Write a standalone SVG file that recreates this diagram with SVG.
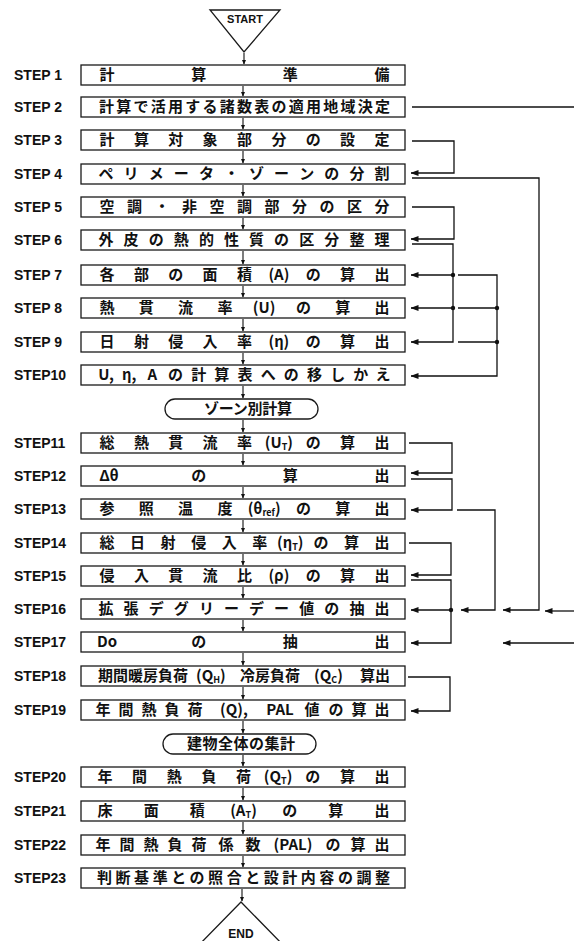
<svg xmlns="http://www.w3.org/2000/svg" width="574" height="941" viewBox="0 0 574 941">
<style>
.bg{fill:#fff}
.box{fill:#fff;stroke:#1a1a1a;stroke-width:1.3}
.term{fill:#fff;stroke:#1a1a1a;stroke-width:1.3}
.lbl{font-family:"Liberation Sans",Arial,sans-serif;font-weight:700;font-size:14px;fill:#111}
.tx{font-family:"Noto Sans CJK JP","Liberation Sans",sans-serif;font-weight:700;font-size:15px;fill:#111;text-anchor:middle}
.txs{font-family:"Noto Sans CJK JP","Liberation Sans",sans-serif;font-weight:700;font-size:15px;fill:#111}
.sub{font-size:9px}
.tl{font-family:"Liberation Sans",Arial,sans-serif;font-weight:700;font-size:11px;fill:#111;text-anchor:middle}
.ln{fill:none;stroke:#111;stroke-width:1.3}
.ar{fill:none;stroke:#111;stroke-width:1.3;marker-end:url(#ah)}
.dn{fill:none;stroke:#111;stroke-width:1.1;marker-end:url(#ahs)}
.dot{fill:#111}
</style>
<defs>
<marker id="ah" markerUnits="userSpaceOnUse" markerWidth="8" markerHeight="6" refX="7.5" refY="3" orient="auto"><path d="M0,0 L8,3 L0,6 z" fill="#111"/></marker>
<marker id="ahs" markerUnits="userSpaceOnUse" markerWidth="5" markerHeight="5" refX="4.5" refY="2.5" orient="auto"><path d="M0,0.3 L5,2.5 L0,4.7 z" fill="#111"/></marker>
</defs>
<rect class="bg" x="0" y="0" width="574" height="941"/>

<g id="start"><polygon class="term" points="210,10 280,10 244,52"/><text class="tl" x="245" y="23">START</text></g>

<g id="step1"><text class="lbl" x="14" y="80">STEP 1</text><rect class="box" x="81" y="65" width="324" height="20"/><text class="tx" y="80"><tspan x="107">計</tspan><tspan x="198.7">算</tspan><tspan x="290.3">準</tspan><tspan x="382">備</tspan></text></g>

<g id="step2"><text class="lbl" x="14" y="112">STEP 2</text><rect class="box" x="81" y="97" width="324" height="20"/><text class="txs" x="99" y="112" textLength="291" lengthAdjust="spacing">計算で活用する諸数表の適用地域決定</text></g>

<g id="step3"><text class="lbl" x="14" y="145">STEP 3</text><rect class="box" x="81" y="130" width="324" height="20"/><text class="tx" y="145"><tspan x="107">計</tspan><tspan x="141.4">算</tspan><tspan x="175.8">対</tspan><tspan x="210.1">象</tspan><tspan x="244.5">部</tspan><tspan x="278.9">分</tspan><tspan x="313.3">の</tspan><tspan x="347.6">設</tspan><tspan x="382">定</tspan></text></g>

<g id="step4"><text class="lbl" x="14" y="179">STEP 4</text><rect class="box" x="81" y="164" width="324" height="20"/><text class="tx" y="179"><tspan x="106">ペ</tspan><tspan x="131.1">リ</tspan><tspan x="156.2">メ</tspan><tspan x="181.3">ー</tspan><tspan x="206.4">タ</tspan><tspan x="231.5">・</tspan><tspan x="256.5">ゾ</tspan><tspan x="281.6">ー</tspan><tspan x="306.7">ン</tspan><tspan x="331.8">の</tspan><tspan x="356.9">分</tspan><tspan x="382">割</tspan></text></g>

<g id="step5"><text class="lbl" x="14" y="212">STEP 5</text><rect class="box" x="81" y="197" width="324" height="20"/><text class="tx" y="212"><tspan x="107">空</tspan><tspan x="134.5">調</tspan><tspan x="162">・</tspan><tspan x="189.5">非</tspan><tspan x="217">空</tspan><tspan x="244.5">調</tspan><tspan x="272">部</tspan><tspan x="299.5">分</tspan><tspan x="327">の</tspan><tspan x="354.5">区</tspan><tspan x="382">分</tspan></text></g>

<g id="step6"><text class="lbl" x="14" y="245">STEP 6</text><rect class="box" x="81" y="230" width="324" height="20"/><text class="tx" y="245"><tspan x="106">外</tspan><tspan x="131.1">皮</tspan><tspan x="156.2">の</tspan><tspan x="181.3">熱</tspan><tspan x="206.4">的</tspan><tspan x="231.5">性</tspan><tspan x="256.5">質</tspan><tspan x="281.6">の</tspan><tspan x="306.7">区</tspan><tspan x="331.8">分</tspan><tspan x="356.9">整</tspan><tspan x="382">理</tspan></text></g>

<g id="step7"><text class="lbl" x="14" y="280">STEP 7</text><rect class="box" x="81" y="265" width="324" height="20"/><text class="tx" y="280"><tspan x="107">各</tspan><tspan x="141.4">部</tspan><tspan x="175.8">の</tspan><tspan x="210.1">面</tspan><tspan x="244.5">積</tspan><tspan x="278.9">(A)</tspan><tspan x="313.3">の</tspan><tspan x="347.6">算</tspan><tspan x="382">出</tspan></text></g>

<g id="step8"><text class="lbl" x="14" y="313">STEP 8</text><rect class="box" x="81" y="298" width="324" height="20"/><text class="tx" y="313"><tspan x="107">熱</tspan><tspan x="146.3">貫</tspan><tspan x="185.6">流</tspan><tspan x="224.9">率</tspan><tspan x="264.1">(U)</tspan><tspan x="303.4">の</tspan><tspan x="342.7">算</tspan><tspan x="382">出</tspan></text></g>

<g id="step9"><text class="lbl" x="14" y="347">STEP 9</text><rect class="box" x="81" y="332" width="324" height="20"/><text class="tx" y="347"><tspan x="107">日</tspan><tspan x="141.4">射</tspan><tspan x="175.8">侵</tspan><tspan x="210.1">入</tspan><tspan x="244.5">率</tspan><tspan x="278.9">(η)</tspan><tspan x="313.3">の</tspan><tspan x="347.6">算</tspan><tspan x="382">出</tspan></text></g>

<g id="step10"><text class="lbl" x="14" y="380">STEP10</text><rect class="box" x="81" y="365" width="324" height="20"/><text class="tx" y="380"><tspan x="106">U,</tspan><tspan x="129.2">η,</tspan><tspan x="152.3">A</tspan><tspan x="175.5">の</tspan><tspan x="198.7">計</tspan><tspan x="221.8">算</tspan><tspan x="245">表</tspan><tspan x="268.2">へ</tspan><tspan x="291.3">の</tspan><tspan x="314.5">移</tspan><tspan x="337.7">し</tspan><tspan x="360.8">か</tspan><tspan x="383">え</tspan></text></g>

<g id="zone"><rect class="term" x="165" y="399" width="153" height="20" rx="10"/><text class="txs" x="204" y="414" textLength="88" lengthAdjust="spacing">ゾーン別計算</text></g>

<g id="step11"><text class="lbl" x="14" y="448">STEP11</text><rect class="box" x="81" y="433" width="324" height="20"/><text class="tx" y="448"><tspan x="107">総</tspan><tspan x="141.4">熱</tspan><tspan x="175.8">貫</tspan><tspan x="210.1">流</tspan><tspan x="244.5">率</tspan><tspan x="278.9">(U<tspan class="sub" dy="2">T</tspan><tspan dy="-2">)</tspan></tspan><tspan x="313.3">の</tspan><tspan x="347.6">算</tspan><tspan x="382">出</tspan></text></g>

<g id="step12"><text class="lbl" x="14" y="481">STEP12</text><rect class="box" x="81" y="466" width="324" height="20"/><text class="tx" y="481"><tspan x="109">Δθ</tspan><tspan x="198.7">の</tspan><tspan x="290.3">算</tspan><tspan x="382">出</tspan></text></g>

<g id="step13"><text class="lbl" x="14" y="514">STEP13</text><rect class="box" x="81" y="499" width="324" height="20"/><text class="tx" y="514"><tspan x="107">参</tspan><tspan x="146.3">照</tspan><tspan x="185.6">温</tspan><tspan x="224.9">度</tspan><tspan x="264.1">(θ<tspan class="sub" dy="2">ref</tspan><tspan dy="-2">)</tspan></tspan><tspan x="303.4">の</tspan><tspan x="342.7">算</tspan><tspan x="382">出</tspan></text></g>

<g id="step14"><text class="lbl" x="14" y="548">STEP14</text><rect class="box" x="81" y="533" width="324" height="20"/><text class="tx" y="548"><tspan x="107">総</tspan><tspan x="137.6">日</tspan><tspan x="168.1">射</tspan><tspan x="198.7">侵</tspan><tspan x="229.2">入</tspan><tspan x="259.8">率</tspan><tspan x="290.3">(η<tspan class="sub" dy="2">T</tspan><tspan dy="-2">)</tspan></tspan><tspan x="320.9">の</tspan><tspan x="351.4">算</tspan><tspan x="382">出</tspan></text></g>

<g id="step15"><text class="lbl" x="14" y="581">STEP15</text><rect class="box" x="81" y="566" width="324" height="20"/><text class="tx" y="581"><tspan x="107">侵</tspan><tspan x="141.4">入</tspan><tspan x="175.8">貫</tspan><tspan x="210.1">流</tspan><tspan x="244.5">比</tspan><tspan x="278.9">(ρ)</tspan><tspan x="313.3">の</tspan><tspan x="347.6">算</tspan><tspan x="382">出</tspan></text></g>

<g id="step16"><text class="lbl" x="14" y="614">STEP16</text><rect class="box" x="81" y="599" width="324" height="20"/><text class="tx" y="614"><tspan x="106">拡</tspan><tspan x="131.1">張</tspan><tspan x="156.2">デ</tspan><tspan x="181.3">グ</tspan><tspan x="206.4">リ</tspan><tspan x="231.5">ー</tspan><tspan x="256.5">デ</tspan><tspan x="281.6">ー</tspan><tspan x="306.7">値</tspan><tspan x="331.8">の</tspan><tspan x="356.9">抽</tspan><tspan x="382">出</tspan></text></g>

<g id="step17"><text class="lbl" x="14" y="647">STEP17</text><rect class="box" x="81" y="632" width="324" height="20"/><text class="tx" y="647"><tspan x="107">Do</tspan><tspan x="198.7">の</tspan><tspan x="290.3">抽</tspan><tspan x="382">出</tspan></text></g>

<g id="step18"><text class="lbl" x="14" y="681">STEP18</text><rect class="box" x="81" y="666" width="324" height="20"/><text class="txs" y="681"><tspan x="98">期間暖房負荷</tspan><tspan x="196">(Q<tspan class="sub" dy="2">H</tspan><tspan dy="-2">)</tspan></tspan><tspan x="240">冷房負荷</tspan><tspan x="314">(Q<tspan class="sub" dy="2">C</tspan><tspan dy="-2">)</tspan></tspan><tspan x="360">算出</tspan></text></g>

<g id="step19"><text class="lbl" x="14" y="715">STEP19</text><rect class="box" x="81" y="700" width="324" height="20"/><text class="tx" y="715"><tspan x="103">年</tspan><tspan x="126">間</tspan><tspan x="149">熱</tspan><tspan x="172">負</tspan><tspan x="195">荷</tspan><tspan x="234">(Q),</tspan><tspan x="280">PAL</tspan><tspan x="312">値</tspan><tspan x="336">の</tspan><tspan x="359">算</tspan><tspan x="382">出</tspan></text></g>

<g id="whole"><rect class="term" x="163" y="734" width="153" height="20" rx="10"/><text class="txs" x="187" y="749" textLength="108" lengthAdjust="spacing">建物全体の集計</text></g>

<g id="step20"><text class="lbl" x="14" y="782">STEP20</text><rect class="box" x="81" y="767" width="324" height="20"/><text class="tx" y="782"><tspan x="105">年</tspan><tspan x="139.6">間</tspan><tspan x="174.2">熱</tspan><tspan x="208.9">負</tspan><tspan x="243.5">荷</tspan><tspan x="278.1">(Q<tspan class="sub" dy="2">T</tspan><tspan dy="-2">)</tspan></tspan><tspan x="312.8">の</tspan><tspan x="347.4">算</tspan><tspan x="382">出</tspan></text></g>

<g id="step21"><text class="lbl" x="14" y="816">STEP21</text><rect class="box" x="81" y="801" width="324" height="20"/><text class="tx" y="816"><tspan x="105">床</tspan><tspan x="151.2">面</tspan><tspan x="197.3">積</tspan><tspan x="243.5">(A<tspan class="sub" dy="2">T</tspan><tspan dy="-2">)</tspan></tspan><tspan x="289.7">の</tspan><tspan x="335.8">算</tspan><tspan x="382">出</tspan></text></g>

<g id="step22"><text class="lbl" x="14" y="850">STEP22</text><rect class="box" x="81" y="835" width="324" height="20"/><text class="tx" y="850"><tspan x="103">年</tspan><tspan x="127">間</tspan><tspan x="151">熱</tspan><tspan x="175">負</tspan><tspan x="199">荷</tspan><tspan x="226">係</tspan><tspan x="253">数</tspan><tspan x="293">(PAL)</tspan><tspan x="333">の</tspan><tspan x="358">算</tspan><tspan x="382">出</tspan></text></g>

<g id="step23"><text class="lbl" x="14" y="883">STEP23</text><rect class="box" x="81" y="868" width="324" height="20"/><text class="txs" x="97" y="883" textLength="293" lengthAdjust="spacing">判断基準との照合と設計内容の調整</text></g>

<g id="end"><polygon class="term" points="241,902 196,948 286,948"/><text class="tl" x="241" y="938" style="font-size:12px">END</text></g>

<g id="connectors">
<path class="dn" d="M244,53 V64"/>
<path class="dn" d="M243,86 V96"/>
<path class="dn" d="M243,118 V129"/>
<path class="dn" d="M243,151 V163"/>
<path class="dn" d="M243,185 V196"/>
<path class="dn" d="M243,218 V229"/>
<path class="dn" d="M243,251 V264"/>
<path class="dn" d="M243,286 V297"/>
<path class="dn" d="M243,319 V331"/>
<path class="dn" d="M243,353 V364"/>
<path class="dn" d="M243,386 V398"/>
<path class="dn" d="M243,420 V432"/>
<path class="dn" d="M243,454 V465"/>
<path class="dn" d="M243,487 V498"/>
<path class="dn" d="M243,520 V532"/>
<path class="dn" d="M243,554 V565"/>
<path class="dn" d="M243,587 V598"/>
<path class="dn" d="M243,620 V631"/>
<path class="dn" d="M243,653 V665"/>
<path class="dn" d="M243,687 V699"/>
<path class="dn" d="M243,721 V733"/>
<path class="dn" d="M243,755 V766"/>
<path class="dn" d="M243,788 V800"/>
<path class="dn" d="M243,822 V834"/>
<path class="dn" d="M243,856 V867"/>
<path class="dn" d="M242,889 V901"/>

<path class="ln" d="M412,107 H574"/>
<path class="ar" d="M412,141 H454 V173 H411"/>
<path class="ar" d="M412,178 H539 V610 H503"/>
<path class="ar" d="M412,207 H454 V239 H411"/>
<path class="ar" d="M412,244 H453 V342 H411"/>
<path class="ar" d="M453,275 H411"/>
<path class="ar" d="M453,308 H411"/>
<path class="ar" d="M458,275 H497 V376 H411"/>
<path class="ln" d="M458,308 H497"/>
<path class="ln" d="M458,342 H497"/>
<circle class="dot" cx="453" cy="275" r="2.2"/>
<circle class="dot" cx="453" cy="308" r="2.2"/>
<circle class="dot" cx="497" cy="308" r="2.2"/>
<circle class="dot" cx="497" cy="342" r="2.2"/>

<path class="ar" d="M409,443 H452 V473 H411"/>
<path class="ar" d="M411,479 H452 V510 H411"/>
<path class="ar" d="M457,510 H495 V610 H461"/>
<path class="ar" d="M409,543 H451 V575 H411"/>
<path class="ar" d="M411,580 H451 V643 H411"/>
<path class="ar" d="M451,610 H411"/>
<circle class="dot" cx="451" cy="610" r="2.2"/>
<path class="ar" d="M574,611 H545"/>
<path class="ar" d="M574,643 H503"/>
<path class="ar" d="M408,677 H450 V711 H411"/>
</g>
</svg>
